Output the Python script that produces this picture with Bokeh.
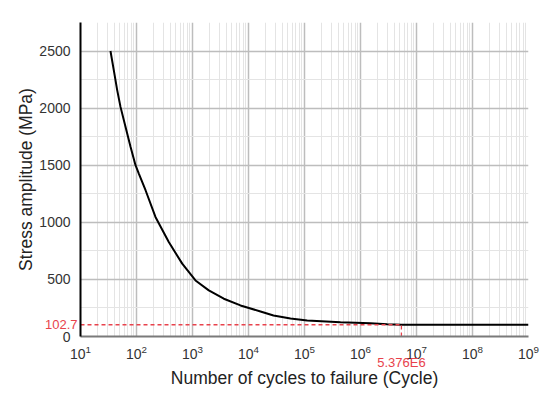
from bokeh.plotting import figure
from bokeh.models import (FixedTicker, LogTickFormatter, LinearAxis, LogAxis,
                          CustomJSTickFormatter)
from bokeh.embed import file_html
from bokeh.resources import INLINE

# S-N curve data
cycles = [34.3, 39.3, 45.2, 51.8, 63.6, 78.2, 96, 110, 145, 218, 377, 655,
          1131, 1955, 3623, 7197, 16380, 27950, 56230, 111700, 439500,
          1.5e6, 3.0e6, 5.376e6, 1.0e7, 1.0e8, 1.0e9]
stress = [2500, 2333, 2158, 2011, 1836, 1661, 1500, 1427, 1281, 1047, 827, 638,
          491, 404, 331, 272, 219, 184, 158, 140, 125,
          116, 108, 102.7, 102.7, 102.7, 102.7]

endurance_cycles = 5.376e6
endurance_stress = 102.7
endurance_cycles_label = "5.376E6"
endurance_stress_label = "102.7"

x_major = [10 ** k for k in range(1, 10)]
x_minor = [m * 10 ** k for k in range(1, 9) for m in range(2, 10)]
y_major = [0, 500, 1000, 1500, 2000, 2500]
y_minor = [250, 750, 1250, 1750, 2250, 2750]

FONT = "Liberation Sans"
red = "#e8424c"

p = figure(width=550, height=390, x_axis_type="log",
           x_range=(10, 1e9), y_range=(0, 2750),
           output_backend="svg", toolbar_location=None,
           min_border_left=80, min_border_right=22,
           min_border_top=22, min_border_bottom=54)

p.outline_line_color = None
p.background_fill_color = "white"
p.border_fill_color = "white"

xax = p.xaxis[0]
yax = p.yaxis[0]
xax.ticker = FixedTicker(ticks=x_major, minor_ticks=x_minor)
yax.ticker = FixedTicker(ticks=y_major, minor_ticks=y_minor)
xax.formatter = LogTickFormatter()

for ax in (xax, yax):
    ax.major_tick_line_color = None
    ax.minor_tick_line_color = None
    ax.major_label_text_font = FONT
    ax.major_label_text_font_size = "14px"
    ax.major_label_text_color = "#333333"
    ax.major_label_standoff = 4
xax.major_label_standoff = 2

yax.axis_line_color = "black"
yax.axis_line_width = 2
xax.axis_line_color = "#7a7a7a"
xax.axis_line_width = 2

for g in (p.xgrid, p.ygrid):
    g.grid_line_color = "#bdbdbd"
    g.grid_line_width = 1.5
    g.minor_grid_line_color = "#e4e4e4"
    g.minor_grid_line_width = 1

# red marker axes for the endurance limit (carry the axis titles too)
x_mark = LogAxis(ticker=FixedTicker(ticks=[endurance_cycles]),
                 formatter=CustomJSTickFormatter(args=dict(label=endurance_cycles_label),
                                                 code="return label"),
                 axis_label="Number of cycles to failure (Cycle)")
y_mark = LinearAxis(ticker=FixedTicker(ticks=[endurance_stress]),
                    formatter=CustomJSTickFormatter(args=dict(label=endurance_stress_label),
                                                    code="return label"),
                    axis_label="Stress amplitude (MPa)")
for ax in (x_mark, y_mark):
    ax.axis_line_color = None
    ax.major_tick_line_color = None
    ax.minor_tick_line_color = None
    ax.major_label_text_font = FONT
    ax.major_label_text_font_size = "13px"
    ax.major_label_text_color = red
    ax.axis_label_text_font = FONT
    ax.axis_label_text_font_size = "17.5px"
    ax.axis_label_text_font_style = "normal"
    ax.axis_label_text_color = "#222222"
x_mark.major_label_standoff = -13
x_mark.axis_label_standoff = -5
y_mark.major_label_standoff = -47
y_mark.axis_label_standoff = 6
p.add_layout(x_mark, "below")
p.add_layout(y_mark, "left")

# S-N curve
p.line(cycles, stress, line_color="black", line_width=2)

# endurance limit guide lines
p.line([x_major[0], endurance_cycles], [endurance_stress, endurance_stress],
       line_color=red, line_width=1.3, line_dash="4 3")
p.line([endurance_cycles, endurance_cycles], [0, endurance_stress],
       line_color=red, line_width=1.3, line_dash="4 3")

open("out.html", "w").write(file_html(p, INLINE))
